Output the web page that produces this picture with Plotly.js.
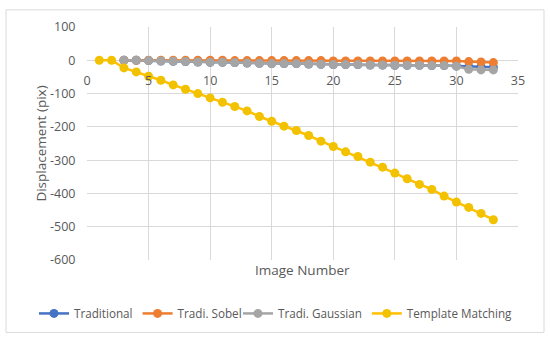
<!DOCTYPE html>
<html>
<head>
<meta charset="utf-8">
<script src="https://cdn.plot.ly/plotly-3.0.1.min.js"></script>
<style>html,body{margin:0;padding:0;background:#fff;}#chart{width:550px;height:344px;}</style>
</head>
<body>
<div id="chart"></div>
<script>
var imgTM = [1,2,3,4,5,6,7,8,9,10,11,12,13,14,15,16,17,18,19,20,21,22,23,24,25,26,27,28,29,30,31,32,33];
var imgTrad = [3,4,5,6,7,8,9,10,11,12,13,14,15,16,17,18,19,20,21,22,23,24,25,26,27,28,29,30,31,32,33];

var traditional = [0,0,-1,-2,-3,-4,-5,-6,-6,-7,-8,-9,-10,-10,-10,-11,-12,-13,-13,-13,-14,-14,-15,-15,-15,-16,-16,-17,-19,-20,-21];
var sobel       = [0,0,0,0,0,0,0,0,0,-1,-1,-1,-1,-1,-1,-1,-1,-2,-2,-2,-2,-2,-2,-2,-2,-2,-2,-2,-4,-5,-7];
var gaussian    = [0,0,-1,-2,-3,-4,-5,-6,-6,-7,-8,-9,-10,-10,-10,-11,-12,-13,-13,-13,-14,-14,-15,-15,-15,-16,-16,-18,-27,-29,-29];
var template    = [0,0,-23,-35,-48,-60,-74,-87,-100,-113,-126,-139,-152,-169,-183,-198,-211,-226,-243,-259,-275,-289,-306,-321,-339,-356,-373,-388,-408,-426,-442,-460,-479];

var yTicks = [100,0,-100,-200,-300,-400,-500,-600];
var xTicks = [0,5,10,15,20,25,30,35];

var names = ['Traditional','Tradi. Sobel','Tradi. Gaussian','Template Matching'];
var lineColors = ['#4472C4','#ED7D31','#A5A5A5','#FFC000'];
var markerColors = ['#4472C4','#ED7D31','#A5A5A5','#F2C200'];
var legendIds = ['legend','legend','legend2','legend2'];
var xs = [imgTrad, imgTrad, imgTrad, imgTM];
var ys = [traditional, sobel, gaussian, template];

var traces = ys.map(function(y,i){
  return {
    x: xs[i], y: y, name: names[i], type:'scatter', mode:'lines+markers',
    legend: legendIds[i],
    line:{color:lineColors[i], width:2.5},
    marker:{color:markerColors[i], size:9}
  };
});

var font = "'Open Sans', 'Liberation Sans', sans-serif";
var legendBase = function(xpx){
  return {orientation:'h', x:(xpx-87)/431, xanchor:'left', y:(260.5-314)/233.3, yanchor:'middle',
          font:{size:11.7, color:'#595959'}, itemwidth:30, bgcolor:'rgba(0,0,0,0)', borderwidth:0};
};
var layout = {
  width:550, height:344,
  margin:{l:87, r:32, t:27, b:83.5},
  paper_bgcolor:'#fff', plot_bgcolor:'#fff',
  font:{family:font, color:'#595959', size:12},
  showlegend:true,
  legend: legendBase(34),
  legend2: legendBase(238),
  xaxis:{range:[0,35], tickvals:xTicks, ticktext:xTicks.map(String), showgrid:true, gridcolor:'#D9D9D9', gridwidth:1,
         zeroline:false, showline:false, anchor:'free', position:600/700,
         ticks:'outside', ticklen:9, tickcolor:'rgba(0,0,0,0)',
         tickfont:{size:12.5, color:'#595959'}, fixedrange:true},
  yaxis:{range:[-600,100], tickvals:yTicks, ticktext:yTicks.map(String), showgrid:true, gridcolor:'#D9D9D9', gridwidth:1,
         zeroline:true, zerolinecolor:'#D9D9D9', zerolinewidth:1, showline:false,
         ticks:'outside', ticklen:8, tickcolor:'rgba(0,0,0,0)',
         tickfont:{size:12.5, color:'#595959'},
         title:{text:'Displacement (pix)', font:{size:13.5, color:'#595959'}, standoff:0}},
  annotations:[{text:'Image Number', xref:'paper', yref:'paper', x:0.5, y:(260.5-271)/233.3,
                xanchor:'center', yanchor:'middle', showarrow:false,
                font:{size:13.5, color:'#595959', family:font}}],
  shapes:[{type:'rect', xref:'paper', yref:'paper', x0:(6-87)/431, x1:(544-87)/431,
           y0:(260.5-333)/233.3, y1:(260.5-10)/233.3, line:{color:'#D9D9D9', width:1}, layer:'below'}]
};

Plotly.newPlot('chart', traces, layout, {displayModeBar:false, staticPlot:true});
</script>
</body>
</html>
